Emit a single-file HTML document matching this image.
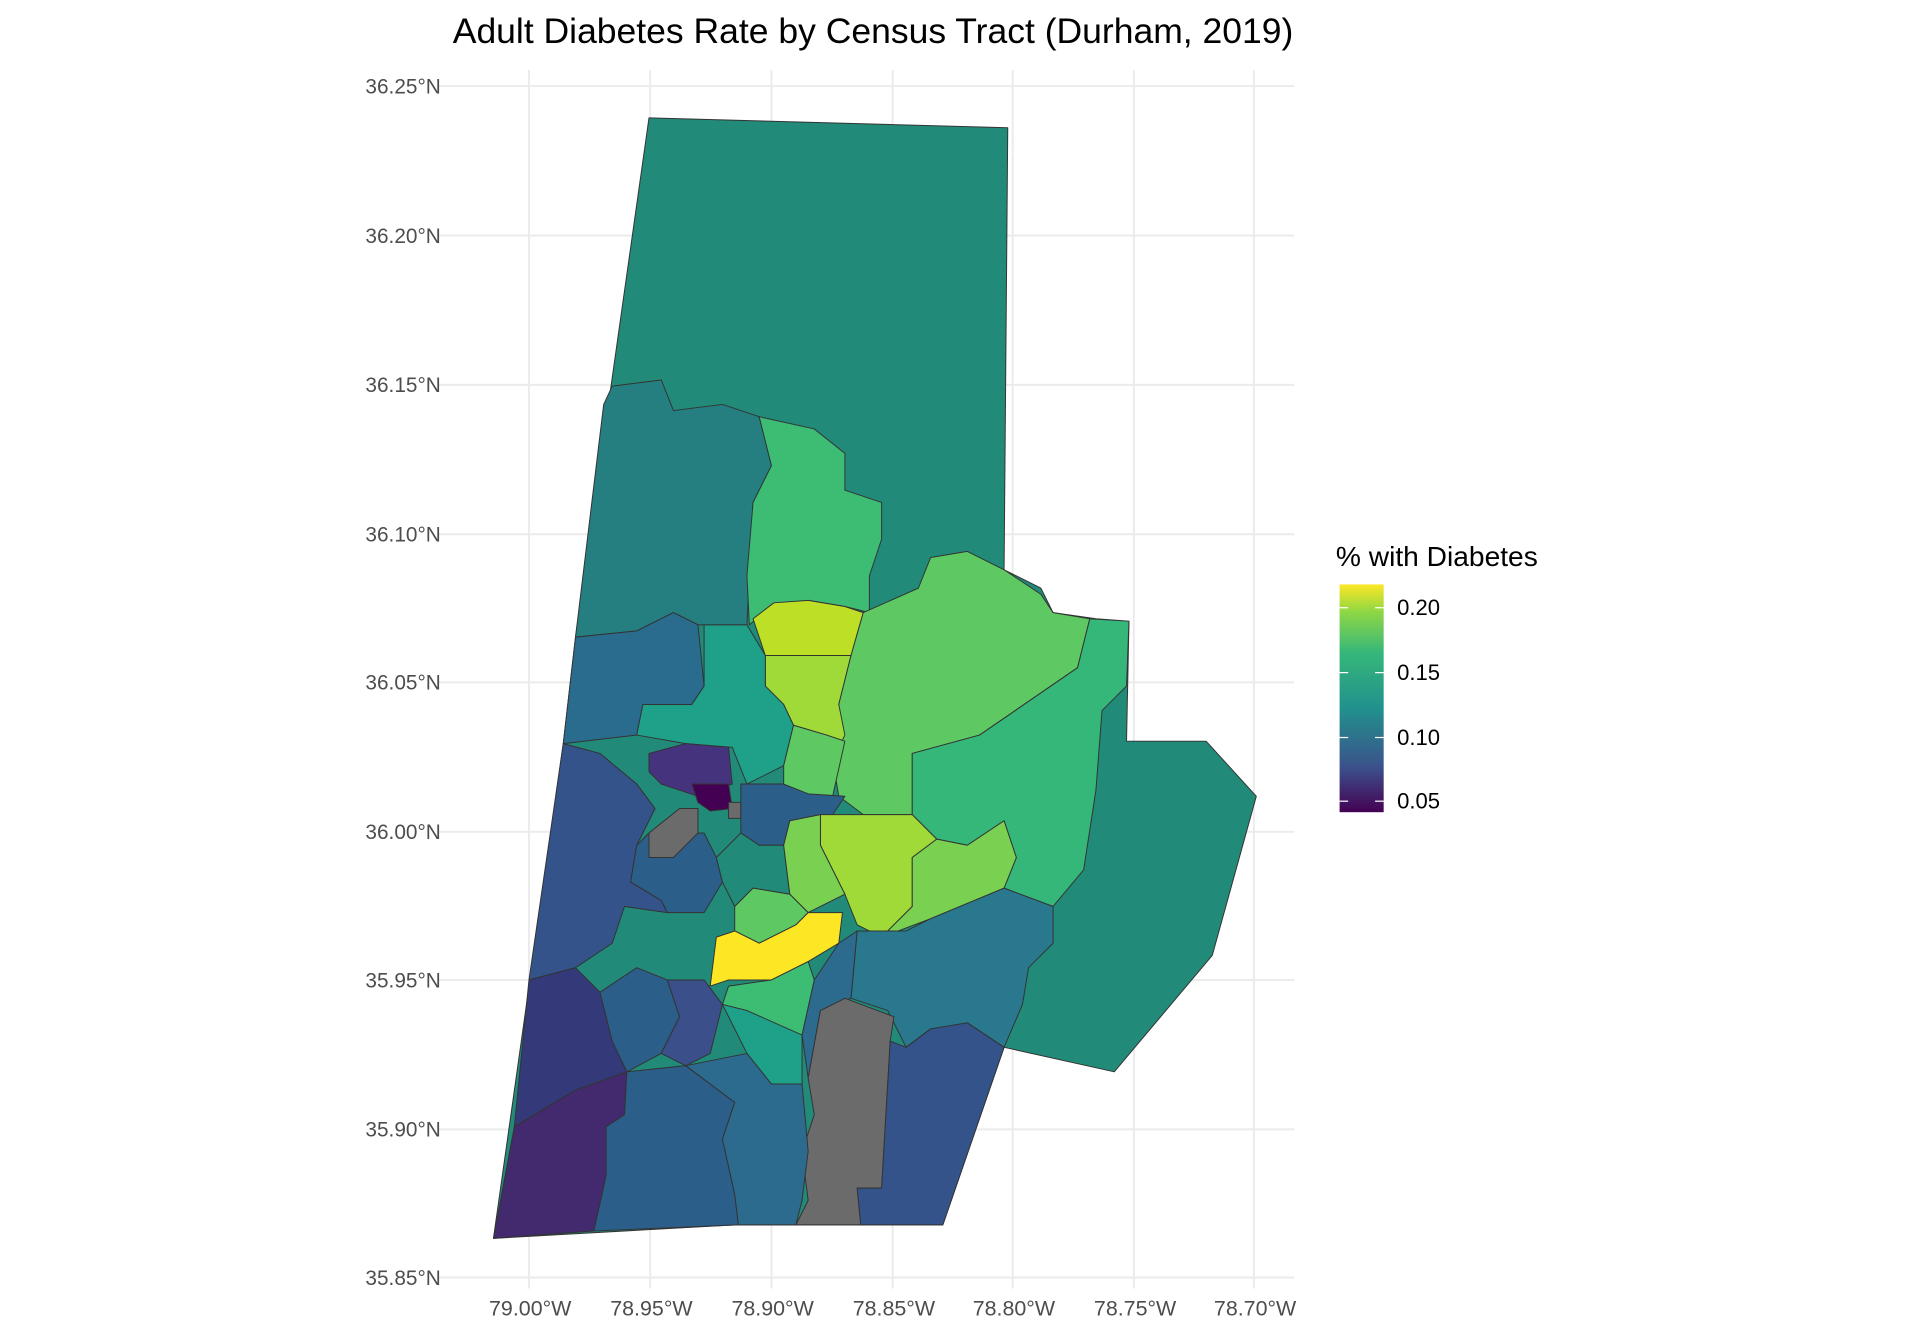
<!DOCTYPE html>
<html><head><meta charset="utf-8"><style>
html,body{margin:0;padding:0;background:#fff;}
svg{display:block;}
text{font-family:"Liberation Sans",Arial,sans-serif;}
</style></head><body>
<svg width="1920" height="1344" viewBox="0 0 1568 1097" xmlns="http://www.w3.org/2000/svg">
<defs><linearGradient id="vir" x1="0" y1="1" x2="0" y2="0">
<stop offset="0" stop-color="#440154"/><stop offset="0.2" stop-color="#3b528b"/><stop offset="0.45" stop-color="#21908d"/><stop offset="0.7" stop-color="#35b779"/><stop offset="0.88" stop-color="#8fd744"/><stop offset="1" stop-color="#fde725"/></linearGradient></defs>
<rect width="1568" height="1097" fill="#fff"/>
<g stroke="#ebebeb" stroke-width="1.6">
<line x1="432" y1="57" x2="432" y2="1052"/><line x1="531" y1="57" x2="531" y2="1052"/><line x1="630" y1="57" x2="630" y2="1052"/><line x1="729" y1="57" x2="729" y2="1052"/><line x1="827" y1="57" x2="827" y2="1052"/><line x1="926" y1="57" x2="926" y2="1052"/><line x1="1024" y1="57" x2="1024" y2="1052"/>
<line x1="358" y1="70" x2="1057" y2="70"/><line x1="358" y1="192" x2="1057" y2="192"/><line x1="358" y1="314" x2="1057" y2="314"/><line x1="358" y1="436" x2="1057" y2="436"/><line x1="358" y1="557" x2="1057" y2="557"/><line x1="358" y1="679" x2="1057" y2="679"/><line x1="358" y1="800" x2="1057" y2="800"/><line x1="358" y1="922" x2="1057" y2="922"/><line x1="358" y1="1043" x2="1057" y2="1043"/>
</g>
<g stroke="#333" stroke-width="0.8" stroke-linejoin="round">
<polygon fill="#228a78" points="530,96 823,104 820,465 850,480 860,500 895,505 922,507 920,605 985,605 1026,650 990,780 910,875 820,855 770,1000 600,1000 403,1011 460,607 470,520"/>
<polygon fill="#257f80" points="470,520 520,515 550,500 570,510 610,510 612,470 615,410 630,380 620,340 590,330 550,335 540,310 500,315 493,330"/>
<polygon fill="#3dbc74" points="620,340 665,350 690,370 690,400 720,410 720,440 710,470 710,500 690,495 660,490 630,495 612,510 610,470 615,410 630,380"/>
<polygon fill="#bddf26" points="615,505 632,492 660,490 690,495 705,500 695,535 625,535"/>
<polygon fill="#a0da39" points="625,535 695,535 685,575 695,590 690,605 675,600 648,592 640,575 625,560"/>
<polygon fill="#5ec962" points="705,500 750,480 760,455 790,450 820,465 850,485 860,500 890,505 880,545 800,600 745,615 745,665 705,665 685,650 680,620 690,600 685,575 695,535"/>
<polygon fill="#35b779" points="890,505 922,507 920,560 900,580 895,645 885,710 860,740 820,725 830,700 820,670 790,690 765,685 745,665 745,615 800,600 880,545"/>
<polygon fill="#2a6c8e" points="470,520 520,515 550,500 570,510 575,560 565,575 525,575 520,600 460,607"/>
<polygon fill="#1fa088" points="520,600 525,575 565,575 575,560 575,510 610,510 625,535 625,560 640,575 648,592 640,625 610,640 598,610 560,607"/>
<polygon fill="#5ec962" points="648,592 675,600 690,605 680,650 655,648 640,640 640,625"/>
<polygon fill="#46337e" points="530,615 560,607 595,610 598,640 570,650 540,640 530,630"/>
<polygon fill="#440154" points="565,640 595,640 598,660 580,662 570,655"/>
<polygon fill="#33538a" points="460,607 490,615 520,640 535,660 520,690 515,720 540,735 545,745 510,740 500,770 470,790 432,800"/>
<polygon fill="#343a79" points="432,800 470,790 490,810 500,850 512,875 470,890 420,920"/>
<polygon fill="#432a6e" points="420,920 470,890 512,875 510,910 495,920 495,960 485,1005 403,1011"/>
<polygon fill="#2c5e8a" points="520,690 530,680 575,680 585,700 590,720 575,745 545,745 540,735 515,720"/>
<polygon fill="#6b6b6b" points="530,680 555,660 570,660 570,680 550,700 530,700"/>
<polygon fill="#6b6b6b" points="595,655 605,655 605,668 595,668"/>
<polygon fill="#2c5e8a" points="605,640 640,640 660,648 690,650 680,665 645,670 640,690 620,690 605,680"/>
<polygon fill="#228a78" points="585,700 605,680 620,690 640,690 645,730 615,725 600,740 590,720"/>
<polygon fill="#a0da39" points="670,665 705,665 745,665 765,685 745,700 745,740 720,765 700,755 690,730 680,710 670,690"/>
<polygon fill="#7ad151" points="645,670 670,665 670,690 680,710 690,730 660,745 645,730 640,690"/>
<polygon fill="#7ad151" points="745,700 765,685 790,690 820,670 830,700 820,725 760,750 720,765 745,740"/>
<polygon fill="#5ec962" points="600,740 615,725 645,730 660,745 650,755 620,770 600,760"/>
<polygon fill="#fde725" points="585,765 600,760 620,770 650,755 660,745 688,745 685,770 660,785 630,800 595,800 580,805"/>
<polygon fill="#3dbc74" points="595,805 630,800 660,785 665,800 655,845 630,840 610,825 590,820"/>
<polygon fill="#1fa088" points="590,820 610,825 655,845 655,885 630,885 610,860"/>
<polygon fill="#2a788e" points="700,760 740,760 760,750 820,725 860,740 860,770 840,790 835,820 820,855 790,835 760,840 740,855 725,825 695,815"/>
<polygon fill="#2c6a8e" points="685,770 700,760 695,815 670,825 660,880 655,845 665,800"/>
<polygon fill="#6b6b6b" points="670,825 690,815 730,830 727,850 720,970 700,970 703,1000 650,1000 660,980 655,940 665,910 660,880"/>
<polygon fill="#33538a" points="740,855 760,840 790,835 820,855 770,1000 703,1000 700,970 720,970 727,850"/>
<polygon fill="#2c5e8a" points="512,875 560,870 600,900 590,930 600,975 603,1000 485,1005 495,960 495,920 510,910"/>
<polygon fill="#2c6a8e" points="560,870 610,860 630,885 655,885 660,940 655,980 650,1000 603,1000 600,975 590,930 600,900"/>
<polygon fill="#2c5e8a" points="490,810 520,790 545,800 555,830 540,860 512,875 500,850"/>
<polygon fill="#3b4f8a" points="545,800 575,800 590,820 580,860 560,870 540,860 555,830"/>
</g>
<text x="713" y="35" font-size="29" text-anchor="middle" fill="#000">Adult Diabetes Rate by Census Tract (Durham, 2019)</text>
<g font-size="17" fill="#4d4d4d" text-anchor="end">
<text x="360" y="76">36.25°N</text><text x="360" y="198">36.20°N</text><text x="360" y="320">36.15°N</text><text x="360" y="442">36.10°N</text><text x="360" y="563">36.05°N</text><text x="360" y="685">36.00°N</text><text x="360" y="806">35.95°N</text><text x="360" y="928">35.90°N</text><text x="360" y="1049">35.85°N</text>
</g>
<g font-size="17.5" fill="#4d4d4d" text-anchor="middle">
<text x="433" y="1074">79.00°W</text><text x="532" y="1074">78.95°W</text><text x="631" y="1074">78.90°W</text><text x="730" y="1074">78.85°W</text><text x="828" y="1074">78.80°W</text><text x="927" y="1074">78.75°W</text><text x="1025" y="1074">78.70°W</text>
</g>
<text x="1091" y="462" font-size="23" fill="#000">% with Diabetes</text>
<rect x="1094" y="477" width="36" height="186" fill="url(#vir)"/>
<g stroke="#fff" stroke-width="1"><line x1="1094" y1="496" x2="1101" y2="496"/><line x1="1123" y1="496" x2="1130" y2="496"/><line x1="1094" y1="549" x2="1101" y2="549"/><line x1="1123" y1="549" x2="1130" y2="549"/><line x1="1094" y1="602" x2="1101" y2="602"/><line x1="1123" y1="602" x2="1130" y2="602"/><line x1="1094" y1="654" x2="1101" y2="654"/><line x1="1123" y1="654" x2="1130" y2="654"/></g>
<g font-size="18" fill="#000"><text x="1141" y="502">0.20</text><text x="1141" y="555">0.15</text><text x="1141" y="608">0.10</text><text x="1141" y="660">0.05</text></g>
</svg>
</body></html>
